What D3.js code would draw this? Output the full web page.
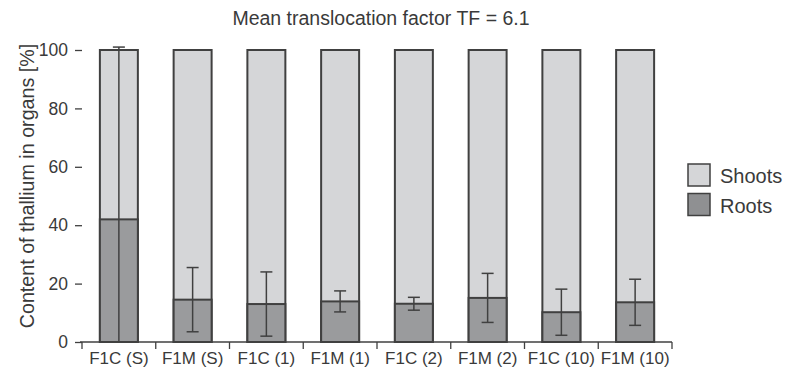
<!DOCTYPE html>
<html>
<head>
<meta charset="utf-8">
<script src="https://cdn.jsdelivr.net/npm/d3@7"></script>
<style>
  body { margin: 0; background: #fff; }
  text { font-family: "Liberation Sans", Arial, sans-serif; fill: #3a3a3a; }
</style>
</head>
<body>
<div class="chart"></div>
<script>
// data
var categories = ["F1C (S)", "F1M (S)", "F1C (1)", "F1M (1)", "F1C (2)", "F1M (2)", "F1C (10)", "F1M (10)"];
var roots = [42, 14.5, 13, 13.9, 13.1, 15.1, 10.2, 13.6];
var rootsErr = [59, 11, 11, 3.6, 2.2, 8.4, 7.9, 7.9];
var yTicks = [0, 20, 40, 60, 80, 100];
var seriesNames = ["Shoots", "Roots"];

var width = 787, height = 370;
var margin = {left: 82, right: 115};

var shootCol = "#d5d6d8", rootCol = "#9a9b9d", strokeCol = "#404040";

var svg = d3.select(".chart").append("svg")
  .attr("width", width)
  .attr("height", height);

var x = d3.scaleBand()
  .domain(categories)
  .range([margin.left, 672])
  .paddingInner(0.485)
  .paddingOuter(0.2425);

var y = d3.scaleLinear()
  .domain([0, 100])
  .range([342, 50]);

// title
svg.append("text")
  .attr("x", 381)
  .attr("y", 25)
  .attr("text-anchor", "middle")
  .style("font-size", "19.5px")
  .text("Mean translocation factor TF = 6.1");

// y label
svg.append("text")
  .attr("transform", "translate(34,186) rotate(-90)")
  .attr("text-anchor", "middle")
  .style("font-size", "19.7px")
  .text("Content of thallium in organs [%]");

// y axis: ticks only, no domain line
var yAxis = svg.append("g")
  .attr("transform", "translate(82,0)")
  .call(d3.axisLeft(y).tickValues(yTicks).tickSize(7).tickPadding(7));
yAxis.select(".domain").remove();
yAxis.selectAll("line").attr("stroke", strokeCol).attr("stroke-width", 1.3);
yAxis.selectAll("text").style("font-size", "17.5px").style("fill", "#3a3a3a");

// bars
var g = svg.selectAll(".bar")
  .data(categories)
  .enter().append("g")
  .attr("class", "bar");

g.append("rect")
  .attr("x", function(d) { return x(d); })
  .attr("y", y(100))
  .attr("width", x.bandwidth())
  .attr("height", y(0) - y(100))
  .attr("fill", shootCol)
  .attr("stroke", strokeCol)
  .attr("stroke-width", 2);

g.append("rect")
  .attr("x", function(d) { return x(d); })
  .attr("y", function(d, i) { return y(roots[i]); })
  .attr("width", x.bandwidth())
  .attr("height", function(d, i) { return y(0) - y(roots[i]); })
  .attr("fill", rootCol)
  .attr("stroke", strokeCol)
  .attr("stroke-width", 2);

// error bars
g.each(function(d, i) {
  var cx = x(d) + x.bandwidth() / 2;
  var hi = roots[i] + rootsErr[i], lo = Math.max(0, roots[i] - rootsErr[i]);
  var el = d3.select(this);
  el.append("line")
    .attr("x1", cx).attr("x2", cx)
    .attr("y1", y(hi)).attr("y2", y(lo))
    .attr("stroke", strokeCol).attr("stroke-width", 1.5);
  el.append("line")
    .attr("x1", cx - 6).attr("x2", cx + 6)
    .attr("y1", y(hi)).attr("y2", y(hi))
    .attr("stroke", strokeCol).attr("stroke-width", 1.5);
  if (lo > 0) {
    el.append("line")
      .attr("x1", cx - 6).attr("x2", cx + 6)
      .attr("y1", y(lo)).attr("y2", y(lo))
      .attr("stroke", strokeCol).attr("stroke-width", 1.5);
  }
});

// x axis with ticks at band edges
var xAxisG = svg.append("g")
  .attr("transform", "translate(0," + y(0) + ")");
xAxisG.append("line")
  .attr("x1", 80).attr("x2", 672)
  .attr("stroke", strokeCol).attr("stroke-width", 1.5);
var edges = categories.map(function(c) { return x(c) - x.step() * x.paddingInner() / 2; });
edges.push(672);
xAxisG.selectAll(".edge")
  .data(edges)
  .enter().append("line")
  .attr("x1", function(d) { return d; })
  .attr("x2", function(d) { return d; })
  .attr("y1", 0).attr("y2", 7)
  .attr("stroke", strokeCol).attr("stroke-width", 1.3);
xAxisG.selectAll(".lab")
  .data(categories)
  .enter().append("text")
  .attr("x", function(d) { return x(d) + x.bandwidth() / 2; })
  .attr("y", 22)
  .attr("text-anchor", "middle")
  .style("font-size", "17px")
  .text(function(d) { return d; });

// legend
var legend = svg.append("g").attr("transform", "translate(688,164)");
var legCols = [shootCol, "#8f9092"];
seriesNames.forEach(function(name, i) {
  legend.append("rect")
    .attr("x", 0).attr("y", i * 29.5)
    .attr("width", 22).attr("height", 22)
    .attr("fill", legCols[i])
    .attr("stroke", strokeCol).attr("stroke-width", 1.5);
  legend.append("text")
    .attr("x", 32).attr("y", i * 29.5 + 19)
    .style("font-size", "20px")
    .text(name);
});
</script>
</body>
</html>
